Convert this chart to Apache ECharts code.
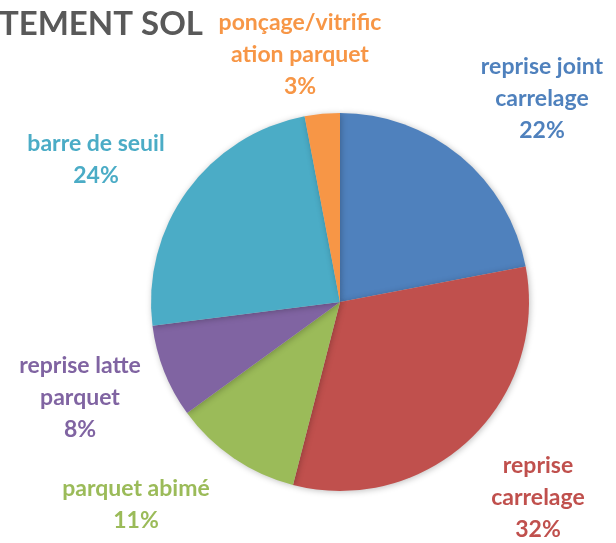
<!DOCTYPE html>
<html>
<head>
<meta charset="utf-8">
<script src="https://cdn.jsdelivr.net/npm/echarts@6/dist/echarts.min.js"></script>
<style>
  html, body { margin: 0; padding: 0; background: #fff; }
  #main { width: 616px; height: 543px; }
</style>
</head>
<body>
<div id="main"></div>
<script>
// slices, clockwise from 12 o'clock
const categories = [
  'reprise joint\ncarrelage',
  'reprise\ncarrelage',
  'parquet abimé',
  'reprise latte\nparquet',
  'barre de seuil',
  'ponçage/vitrific\nation parquet'
];
const values = [22, 32, 11, 8, 24, 3];
const colors = ['#4F81BD', '#C0504D', '#9BBB59', '#8064A2', '#4BACC6', '#F79646'];

// where the labels sit (block centres)
const labelPos = [[542, 99], [538, 498], [136, 505], [80, 398], [96, 160], [300, 55]];

const chart = echarts.init(document.getElementById('main'));

const data = categories.map((c, i) => ({
  name: c,
  value: values[i],
  itemStyle: { color: colors[i] },
  label: { color: colors[i] }
}));

chart.setOption({
  animation: false,
  title: {
    text: 'REVETEMENT SOL',
    right: 408,
    top: 3,
    textStyle: { color: '#595959', fontSize: 33, fontWeight: 'bold', fontFamily: 'Lato' }
  },
  series: [{
    type: 'pie',
    center: [340, 302],
    radius: 189,
    startAngle: 90,
    clockwise: true,
    percentPrecision: 0,
    data: data,
    itemStyle: {
      shadowBlur: 6,
      shadowColor: 'rgba(0,0,0,0.25)',
      shadowOffsetX: 1,
      shadowOffsetY: 1
    },
    label: {
      show: true,
      position: 'outside',
      formatter: '{b}\n{d}%',
      fontFamily: 'Lato',
      fontWeight: 'bold',
      fontSize: 23,
      lineHeight: 32,
      align: 'center',
      overflow: 'none',
      width: 300
    },
    labelLine: { show: false },
    labelLayout: function (p) {
      const pos = labelPos[p.dataIndex];
      return { x: pos[0], y: pos[1], align: 'center', verticalAlign: 'middle' };
    }
  }]
});
</script>
</body>
</html>
